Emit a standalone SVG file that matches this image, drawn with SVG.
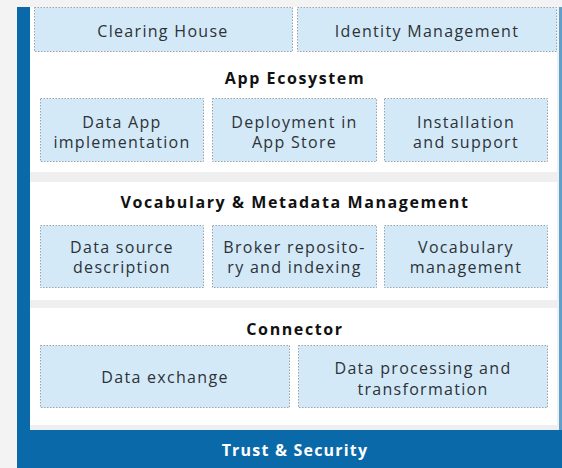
<svg xmlns="http://www.w3.org/2000/svg" width="562" height="468" viewBox="0 0 562 468">
<style>
.box{fill:#d3e9f7;stroke:#9aa3ab;stroke-width:1;stroke-dasharray:1.5 1.5}
.lbl{font-family:"Open Sans","DejaVu Sans",sans-serif;font-size:16px;fill:#2d3237;text-anchor:middle;letter-spacing:1.3px}
.ttl{font-family:"Open Sans","DejaVu Sans",sans-serif;font-size:16px;font-weight:bold;fill:#111;text-anchor:middle;letter-spacing:1.6px}
.panel{fill:#ffffff}
</style>
<rect x="0" y="0" width="562" height="468" fill="#f3f3f3"/>
<rect x="30" y="7" width="529" height="423" fill="#efefef"/>
<rect x="17" y="7" width="13" height="461" fill="#0a69a8"/>
<rect x="559" y="7" width="3" height="461" fill="#5f9fcc"/>
<g id="app-ecosystem">
<rect class="panel" x="30" y="7" width="527" height="165"/>
<text class="ttl" x="295" y="84">App Ecosystem</text>
</g>
<g id="clearing-house">
<rect class="box" x="34.5" y="7.5" width="258" height="44"/>
<text class="lbl" x="163" y="37">Clearing House</text>
</g>
<g id="identity-management">
<rect class="box" x="297.5" y="7.5" width="259" height="44"/>
<text class="lbl" x="427" y="37">Identity Management</text>
</g>
<g id="data-app-implementation">
<rect class="box" x="40.5" y="98.5" width="163" height="63"/>
<text class="lbl" x="122" y="128">Data App</text>
<text class="lbl" x="122" y="148">implementation</text>
</g>
<g id="deployment-app-store">
<rect class="box" x="212.5" y="98.5" width="164" height="63"/>
<text class="lbl" x="294.5" y="128">Deployment in</text>
<text class="lbl" x="294.5" y="148">App Store</text>
</g>
<g id="installation-support">
<rect class="box" x="384.5" y="98.5" width="163" height="63"/>
<text class="lbl" x="466" y="128">Installation</text>
<text class="lbl" x="466" y="148">and support</text>
</g>
<g id="vocabulary-metadata">
<rect class="panel" x="30" y="182" width="527" height="118"/>
<text class="ttl" x="295" y="208">Vocabulary &amp; Metadata Management</text>
</g>
<g id="data-source-description">
<rect class="box" x="40.5" y="225.5" width="163" height="62"/>
<text class="lbl" x="122" y="253">Data source</text>
<text class="lbl" x="122" y="273">description</text>
</g>
<g id="broker-repository">
<rect class="box" x="212.5" y="225.5" width="164" height="62"/>
<text class="lbl" x="294.5" y="253">Broker reposito-</text>
<text class="lbl" x="294.5" y="273">ry and indexing</text>
</g>
<g id="vocabulary-management">
<rect class="box" x="384.5" y="225.5" width="163" height="62"/>
<text class="lbl" x="466" y="253">Vocabulary</text>
<text class="lbl" x="466" y="273">management</text>
</g>
<g id="connector">
<rect class="panel" x="30" y="308" width="527" height="117"/>
<text class="ttl" x="295" y="335">Connector</text>
</g>
<g id="data-exchange">
<rect class="box" x="40.5" y="345.5" width="249" height="62"/>
<text class="lbl" x="165" y="383">Data exchange</text>
</g>
<g id="data-processing">
<rect class="box" x="298.5" y="345.5" width="249" height="62"/>
<text class="lbl" x="423" y="374">Data processing and</text>
<text class="lbl" x="423" y="395">transformation</text>
</g>
<g id="trust-security">
<rect x="17" y="430" width="545" height="38" fill="#0a69a8"/>
<text x="295" y="456" font-family="Open Sans, DejaVu Sans, sans-serif" font-size="16" font-weight="bold" fill="#ffffff" text-anchor="middle" letter-spacing="1.2">Trust &amp; Security</text>
</g>
<g id="connectors"></g>
</svg>
